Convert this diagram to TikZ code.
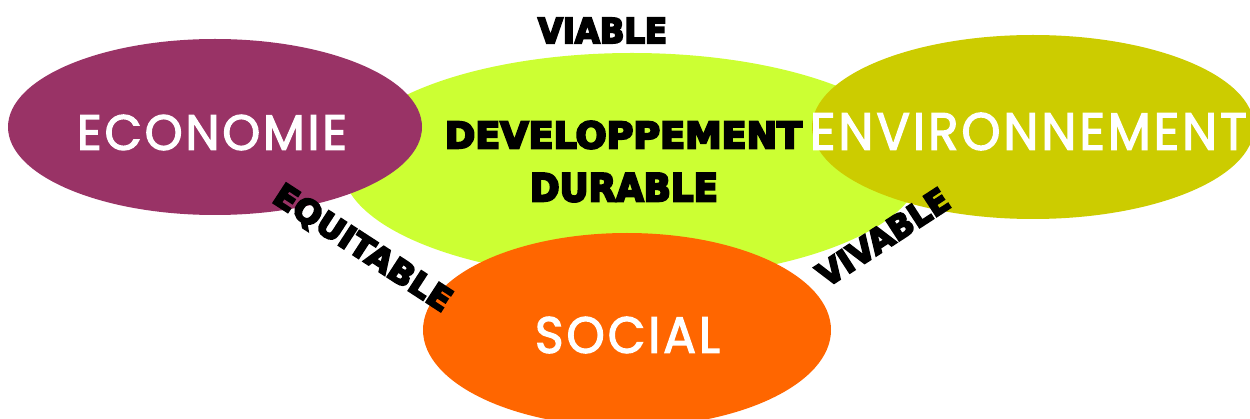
\documentclass[tikz,border=0pt]{standalone}
\usepackage{fontspec}
\usepackage{graphicx}
\usetikzlibrary{shapes.geometric}
\newfontfamily\geo[LetterSpace=6,FakeBold=2.5]{Poppins}
\newfontfamily\heavy[FakeBold=6]{DejaVu Sans Bold}
\definecolor{ecopurple}{HTML}{993366}
\definecolor{devgreen}{HTML}{CCFF33}
\definecolor{envolive}{HTML}{CCCC00}
\definecolor{socorange}{HTML}{FF6600}
\newcommand{\fitbox}[3]{\resizebox{#1pt}{#2pt}{#3}}
\begin{document}
\begin{tikzpicture}[x=1pt,y=-1pt,
  blob/.style={ellipse, draw=none, inner sep=0pt, outer sep=0pt},
  pillar/.style={inner sep=0pt, outer sep=0pt, text=white, font=\geo},
  quality/.style={inner sep=0pt, outer sep=0pt, text=black, font=\heavy}]
\useasboundingbox (0,0) rectangle (1250,419);
\node[blob, fill=devgreen, minimum width=580pt, minimum height=226pt] (dev) at (632,166) {};
\node[blob, fill=ecopurple, minimum width=414pt, minimum height=176pt] (eco) at (215,127) {};
\node[blob, fill=envolive, minimum width=442pt, minimum height=184pt] (env) at (1033,127) {};
\node[blob, fill=socorange, minimum width=408pt, minimum height=194pt] (soc) at (627,330) {};
\node[pillar] (ecotxt) at (212,132.5) {\fitbox{270}{35}{ECONOMIE}};
\node[pillar] (envtxt) at (1028.5,131.5) {\fitbox{437}{37}{ENVIRONNEMENT}};
\node[pillar] (soctxt) at (627.5,335) {\fitbox{185}{36}{SOCIAL}};
\node[quality] (devtxt) at (623.5,135) {\fitbox{357}{27}{DEVELOPPEMENT}};
\node[quality] (durtxt) at (624,187.5) {\fitbox{188}{28}{DURABLE}};
\node[quality] (viable) at (602.5,30.5) {\fitbox{129}{25}{VIABLE}};
\node[quality, rotate=-33] (equit) at (362,249) {\fitbox{205}{24}{EQUITABLE}};
\node[quality, rotate=33] (vivable) at (883,237) {\fitbox{150}{24}{VIVABLE}};
\end{tikzpicture}
\end{document}
